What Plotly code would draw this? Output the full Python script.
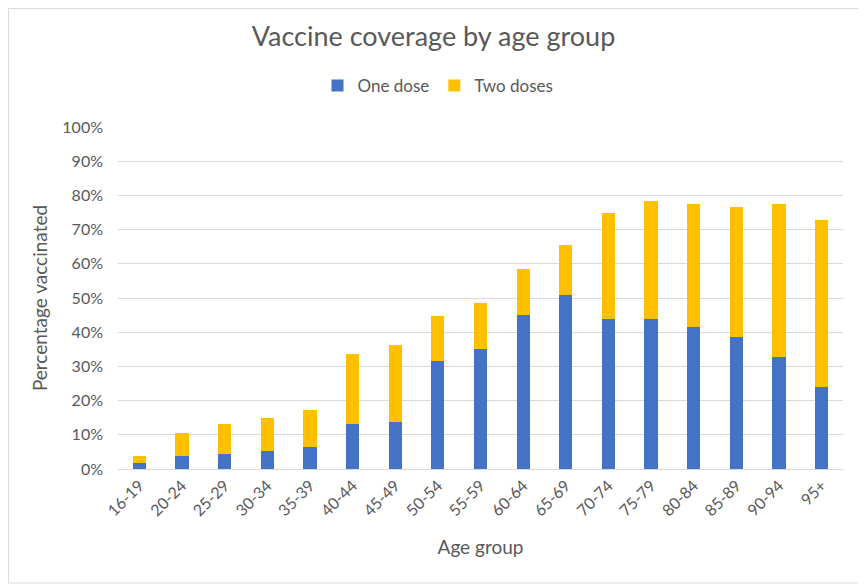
import plotly.graph_objects as go

age_groups = ["16-19", "20-24", "25-29", "30-34", "35-39", "40-44", "45-49", "50-54",
              "55-59", "60-64", "65-69", "70-74", "75-79", "80-84", "85-89", "90-94", "95+"]
one_dose = [1.8, 3.7, 4.4, 5.2, 6.3, 13.2, 13.7, 31.6, 35.1, 45.0, 50.9, 43.9, 43.9, 41.5, 38.6, 32.7, 24.0]
two_doses = [2.1, 6.7, 8.7, 9.6, 10.9, 20.3, 22.5, 13.0, 13.3, 13.4, 14.5, 30.9, 34.5, 35.9, 37.9, 44.7, 48.7]
y_ticks = [0, 10, 20, 30, 40, 50, 60, 70, 80, 90, 100]
y_tick_labels = ["0%", "10%", "20%", "30%", "40%", "50%", "60%", "70%", "80%", "90%", "100%"]

FONT = "Lato"
GREY = "#595959"

fig = go.Figure()
fig.add_trace(go.Bar(x=age_groups, y=one_dose, name="One dose", marker_color="#4472C4",
                     marker_line_width=0))
fig.add_trace(go.Bar(x=age_groups, y=two_doses, name="Two doses", marker_color="#FFC000",
                     marker_line_width=0))

# page has an 8px body margin, so the figure starts at (8, 8)
W, H = 858, 577
L, R, T, B = 110, 23, 119, 116
pw, ph = W - L - R, H - T - B

fig.update_layout(
    barmode="stack",
    bargap=0.69,
    width=W, height=H,
    margin=dict(l=L, r=R, t=T, b=B),
    paper_bgcolor="white", plot_bgcolor="white",
    font=dict(family=FONT, color=GREY),
    title=dict(text="Vaccine coverage by age group", x=(433.5 - 8) / W,
               xanchor="center", y=1 - 29 / H, yanchor="middle",
               font=dict(size=27, color=GREY)),
    legend=dict(orientation="h", x=(438 - 8 - L) / pw, xanchor="center", y=1 + (T - 78) / ph,
                yanchor="middle", font=dict(size=17, color=GREY), traceorder="normal",
                itemwidth=30),
    xaxis=dict(title=dict(text="Age group", font=dict(size=19, color=GREY), standoff=22),
               tickangle=-45, tickfont=dict(size=16, color=GREY),
               showline=True, linecolor="#D9D9D9", linewidth=1, ticks=""),
    yaxis=dict(title=dict(text="Percentage vaccinated", font=dict(size=19, color=GREY), standoff=9),
               range=[0, 100], tickvals=y_ticks, ticktext=y_tick_labels,
               tickfont=dict(size=16, color=GREY), ticklabelstandoff=14,
               showgrid=True, gridcolor="#D9D9D9", gridwidth=1, zeroline=False, ticks=""),
    shapes=[dict(type="rect", xref="paper", yref="paper",
                 x0=(0.5 - L) / pw, x1=(W - 4 - L) / pw,
                 y0=-(H - 2 - (T + ph)) / ph, y1=(T + ph - 0.5) / ph,
                 line=dict(color="#D9D9D9", width=1), layer="below")],
)

fig.write_html("out.html")
